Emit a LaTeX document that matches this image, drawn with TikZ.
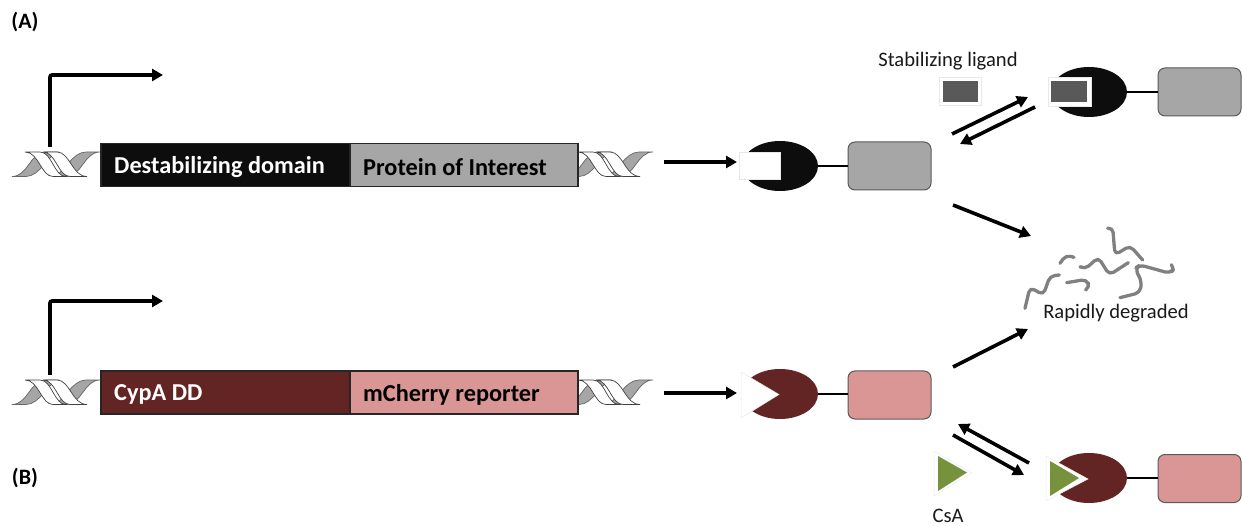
\documentclass[tikz,border=0pt]{standalone}
\usepackage{fontspec}
\setmainfont{Carlito}
\usetikzlibrary{arrows.meta,shapes.geometric}
\definecolor{ddblack}{HTML}{0D0D0D}
\definecolor{poigray}{HTML}{A6A6A6}
\definecolor{ligandgray}{HTML}{595959}
\definecolor{cypred}{HTML}{632523}
\definecolor{cherry}{HTML}{D99694}
\definecolor{csagreen}{HTML}{76923C}
\definecolor{debris}{HTML}{808080}
\tikzset{
  flow/.style={line width=3.6pt,-{Triangle[length=11pt,width=12pt]}},
  tss/.style={line width=3.6pt,rounded corners=2pt,-{Triangle[length=11pt,width=12pt]}},
  linker/.style={line width=2pt},
  gene/.style={draw=black!85,line width=1.4pt,minimum height=43pt,inner sep=0pt},
  genetext/.style={anchor=west,inner sep=0pt,font=\fontsize{24.3}{27}\selectfont\bfseries},
  domainA/.style={ellipse,minimum width=76pt,minimum height=50pt,inner sep=0pt,fill=ddblack},
  domainB/.style={ellipse,minimum width=76pt,minimum height=50pt,inner sep=0pt,fill=cypred},
  poi/.style={rounded corners=7pt,draw=black!65,line width=1pt,minimum width=83pt,minimum height=48pt,inner sep=0pt},
  note/.style={font=\fontsize{20.6}{23}\selectfont,text=black!90,inner sep=0pt},
  panel/.style={font=\fontsize{22}{25}\selectfont\bfseries,inner sep=0pt},
  ribbon/.style={fill=white,draw=black!75,line width=0.7pt},
  leaf/.style={fill=poigray,draw=black!60,line width=0.7pt},
  fragment/.style={draw=debris,line width=3.3pt,rounded corners=5pt,line cap=round,line join=round},
  halo/.style={fill=white,draw=black!9,line width=0.5pt,inner sep=0pt},
  ligand/.style={fill=ligandgray,inner sep=0pt},
}
% One turn of the double helix, 88 wide and 25 high
\newcommand{\dnahelix}[2]{%
  \begin{scope}[shift={(#1,#2)}]
    \draw[leaf] (0,24.5) .. controls (16,24.5) and (18,0) .. (34,0) -- (46,0)
      .. controls (36,3) and (28,24.5) .. (14,24.5) -- cycle;
    \draw[leaf] (88,0) .. controls (72,0) and (70,24.5) .. (54,24.5) -- (42,24.5)
      .. controls (52,21) and (60,0) .. (74,0) -- cycle;
    \draw[ribbon] (13,0) -- (28,0) .. controls (40,0) and (42,24.5) .. (54,24.5) -- (41,24.5)
      .. controls (29,24.5) and (27,0) .. (13,0);
    \draw[ribbon] (31,0) -- (45,0) .. controls (58,0) and (60,24.5) .. (75,24.5) -- (58,24.5)
      .. controls (46,24.5) and (44,0) .. (31,0);
  \end{scope}}
\begin{document}
\begin{tikzpicture}[x=1pt,y=-1pt]
\useasboundingbox (0,0) rectangle (1242,526);

% Helices flanking both constructs
\dnahelix{12}{152}
\dnahelix{565}{152}
\dnahelix{12}{380}
\dnahelix{565}{380}

% Gene constructs
\node[gene,fill=ddblack,minimum width=249pt] (ddA) at (225.5,165) {};
\node[gene,fill=poigray,minimum width=228pt] (poiA) at (464,165) {};
\node[gene,fill=cypred,minimum width=249pt] (ddB) at (225.5,392.5) {};
\node[gene,fill=cherry,minimum width=228pt] (poiB) at (464,392.5) {};
\node[genetext,text=white] (ddAtext) at (114,167) {Destabilizing domain};
\node[genetext,text=black] (poiAtext) at (363,167) {Protein of Interest};
\node[genetext,text=white] (ddBtext) at (114,394.5) {CypA DD};
\node[genetext,text=black] (poiBtext) at (363,394.5) {mCherry reporter};

% Promoter arrows
\coordinate (tssAa) at (50,147);
\coordinate (tssAb) at (163,75);
\coordinate (tssBa) at (50,375);
\coordinate (tssBb) at (163,301);
\draw[tss] (tssAa) |- (tssAb);
\draw[tss] (tssBa) |- (tssBb);

% Expression arrows
\coordinate (exprAa) at (664,162);
\coordinate (exprAb) at (737,162);
\coordinate (exprBa) at (664,393);
\coordinate (exprBb) at (737,393);
\draw[flow] (exprAa) -- (exprAb);
\draw[flow] (exprBa) -- (exprBb);

% Unbound fusion, panel A
\node[domainA] (pacA) at (780,166) {};
\node[halo,minimum width=41pt,minimum height=27pt] (notchA) at (759.5,165.5) {};
\node[poi,fill=poigray] (tagA) at (889.5,166) {};
\draw[linker] (pacA) -- (tagA);

% Ligand-bound fusion, panel A
\node[domainA] (boundA) at (1089,92) {};
\node[halo,minimum width=43pt,minimum height=29pt] (pocketA) at (1069.5,91.5) {};
\node[ligand,minimum width=36pt,minimum height=21pt] (ligandIn) at (1069,91.5) {};
\node[poi,fill=poigray] (tagAb) at (1199.5,92) {};
\draw[linker] (boundA) -- (tagAb);

% Free ligand
\node[halo,minimum width=42pt,minimum height=28pt] (ligandHalo) at (960,91) {};
\node[ligand,minimum width=35pt,minimum height=21pt] (ligandFree) at (960.5,91.5) {};
\node[note] (ligandLabel) at (948,61.5) {Stabilizing ligand};

% Equilibrium, panel A
\coordinate (eqAa) at (952,134);
\coordinate (eqAb) at (1028,97);
\coordinate (eqAc) at (1035,107);
\coordinate (eqAd) at (960,144);
\draw[flow] (eqAa) -- (eqAb);
\draw[flow] (eqAc) -- (eqAd);

% Degradation arrows
\coordinate (degAa) at (953,205);
\coordinate (degAb) at (1031,236);
\coordinate (degBa) at (953,367);
\coordinate (degBb) at (1028,329);
\draw[flow] (degAa) -- (degAb);
\draw[flow] (degBa) -- (degBb);

% Peptide fragments
\begin{scope}[shift={(940,200)},x=0.3333pt,y=-0.3333pt]
  \draw[fragment] (255,325) -- (270,262) -- (310,285) -- (330,228) -- (358,225);
  \draw[fragment] (360,190) -- (378,165) -- (402,172);
  \draw[fragment] (380,248) -- (440,238) -- (450,262) -- (440,268);
  \draw[fragment] (420,200) -- (435,208) -- (475,172) -- (508,225) -- (565,188);
  \draw[fragment] (503,85) -- (518,82) -- (525,165) -- (570,137) -- (608,180);
  \draw[fragment] (540,293) -- (600,278) -- (605,245) -- (585,205) -- (600,195) -- (690,220) -- (705,205) -- (695,195);
\end{scope}
\node[note] (degLabel) at (1116,313) {Rapidly degraded};

% Unbound fusion, panel B
\node[domainB] (pacB) at (780,394) {};
\fill[white,draw=black!9,line width=0.5pt] (741,372) -- (779,394.5) -- (741,418) -- cycle;
\node[poi,fill=cherry] (tagB) at (889.5,395) {};
\draw[linker] (pacB.east) -- (tagB.west |- pacB.east);

% Equilibrium, panel B
\coordinate (eqBa) at (1029,463);
\coordinate (eqBb) at (958,424);
\coordinate (eqBc) at (953,435);
\coordinate (eqBd) at (1024,475);
\draw[flow] (eqBa) -- (eqBb);
\draw[flow] (eqBc) -- (eqBd);

% Free CsA
\fill[white,draw=black!7,line width=0.5pt] (934,451) -- (972,473) -- (934,496) -- cycle;
\fill[csagreen] (938,456) -- (967,472.5) -- (938,491) -- cycle;
\node[note] (csaLabel) at (948,516) {CsA};

% CsA-bound fusion, panel B
\node[domainB] (boundB) at (1089,478) {};
\fill[white,draw=black!7,line width=0.5pt] (1046,456) -- (1088,479) -- (1046,501) -- cycle;
\fill[csagreen] (1050,461) -- (1079,478) -- (1050,496) -- cycle;
\node[poi,fill=cherry] (tagBb) at (1199.5,478.5) {};
\draw[linker] (boundB.east) -- (tagBb.west |- boundB.east);

% Panel letters
\node[panel] (panelA) at (25,22) {(A)};
\node[panel] (panelB) at (25,478) {(B)};
\end{tikzpicture}
\end{document}
